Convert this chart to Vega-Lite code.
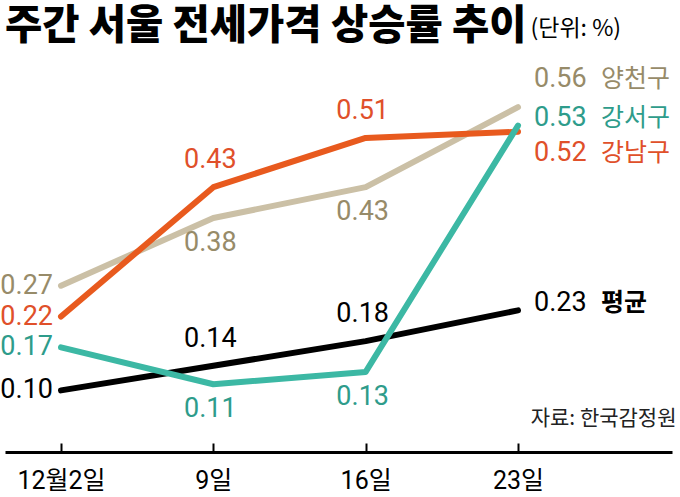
{
  "$schema": "https://vega.github.io/schema/vega-lite/v6.json",
  "autosize": "none",
  "width": 667,
  "height": 388,
  "padding": {"left": 5, "top": 64, "right": 8, "bottom": 45},
  "background": "white",
  "config": {"view": {"stroke": null}},
  "title": {
    "text": "주간 서울 전세가격 상승률 추이",
    "anchor": "start",
    "frame": "group",
    "font": "Noto Sans CJK KR",
    "fontSize": 40.5,
    "fontWeight": 900,
    "color": "#000000",
    "baseline": "alphabetic",
    "offset": -62
  },
  "data": {
    "values": [
      {"date": "2019-12-02", "series": "양천구", "value": 0.27},
      {"date": "2019-12-09", "series": "양천구", "value": 0.38},
      {"date": "2019-12-16", "series": "양천구", "value": 0.43},
      {"date": "2019-12-23", "series": "양천구", "value": 0.56},
      {"date": "2019-12-02", "series": "강남구", "value": 0.22},
      {"date": "2019-12-09", "series": "강남구", "value": 0.43},
      {"date": "2019-12-16", "series": "강남구", "value": 0.51},
      {"date": "2019-12-23", "series": "강남구", "value": 0.52},
      {"date": "2019-12-02", "series": "평균", "value": 0.10},
      {"date": "2019-12-09", "series": "평균", "value": 0.14},
      {"date": "2019-12-16", "series": "평균", "value": 0.18},
      {"date": "2019-12-23", "series": "평균", "value": 0.23},
      {"date": "2019-12-02", "series": "강서구", "value": 0.17},
      {"date": "2019-12-09", "series": "강서구", "value": 0.11},
      {"date": "2019-12-16", "series": "강서구", "value": 0.13},
      {"date": "2019-12-23", "series": "강서구", "value": 0.53}
    ]
  },
  "encoding": {
    "x": {
      "field": "date",
      "type": "temporal",
      "scale": {
        "type": "utc",
        "domain": [
          {"year": 2019, "month": 11, "date": 29, "hours": 10, "minutes": 13, "utc": true},
          {"year": 2019, "month": 12, "date": 30, "hours": 1, "minutes": 51, "utc": true}
        ]
      },
      "axis": {
        "orient": "top",
        "offset": -388,
        "values": [
          {"year": 2019, "month": 12, "date": 2, "utc": true},
          {"year": 2019, "month": 12, "date": 9, "utc": true},
          {"year": 2019, "month": 12, "date": 16, "utc": true},
          {"year": 2019, "month": 12, "date": 23, "utc": true}
        ],
        "labelExpr": "utcdate(datum.value) == 2 ? '12월2일' : utcdate(datum.value) + '일'",
        "grid": false,
        "domain": true,
        "domainColor": "#000000",
        "domainWidth": 3,
        "ticks": true,
        "tickColor": "#000000",
        "tickWidth": 2,
        "tickSize": 9,
        "labelFont": "Roboto, Noto Sans CJK KR",
        "labelFontSize": 25,
        "labelColor": "#000000",
        "labelPadding": -37,
        "labelBaseline": "middle",
        "title": "자료: 한국감정원",
        "titleX": 671,
        "titleY": -34,
        "titleAlign": "right",
        "titleAnchor": null,
        "titleBaseline": "middle",
        "titleFont": "Noto Sans CJK KR",
        "titleFontSize": 21,
        "titleFontWeight": "normal",
        "titleColor": "#222222"
      }
    },
    "y": {
      "field": "value",
      "type": "quantitative",
      "scale": {"domain": [0, 0.63], "nice": false, "zero": false},
      "axis": {
        "labels": false,
        "ticks": false,
        "domain": false,
        "grid": false,
        "title": "(단위: %)",
        "titleAngle": 0,
        "titleX": 525,
        "titleY": -36,
        "titleAlign": "left",
        "titleBaseline": "middle",
        "titleFont": "Noto Sans CJK KR",
        "titleFontSize": 23,
        "titleFontWeight": "normal",
        "titleColor": "#000000"
      }
    }
  },
  "layer": [
    {
      "mark": {"type": "line", "strokeWidth": 6, "strokeCap": "round", "strokeJoin": "round"},
      "encoding": {
        "stroke": {
          "field": "series",
          "type": "nominal",
          "scale": {
            "domain": ["양천구", "강남구", "평균", "강서구"],
            "range": ["#CBC0A6", "#E85A1E", "#000000", "#3CB8A4"]
          },
          "legend": null
        }
      }
    },
    {
      "transform": [{"filter": "utcdate(datum.date) == 2"}],
      "mark": {"type": "text", "align": "right", "baseline": "middle", "dx": -8, "font": "Roboto", "fontSize": 27},
      "encoding": {
        "text": {"field": "value", "type": "quantitative", "format": ".2f"},
        "fill": {
          "field": "series",
          "type": "nominal",
          "scale": {
            "domain": ["양천구", "강남구", "평균", "강서구"],
            "range": ["#978B69", "#E0502A", "#000000", "#2E9C8B"]
          },
          "legend": null
        }
      }
    },
    {
      "transform": [
        {"filter": "(utcdate(datum.date) == 9 || utcdate(datum.date) == 16) && (datum.series == '강남구' || datum.series == '평균')"}
      ],
      "mark": {"type": "text", "align": "center", "baseline": "middle", "dx": -3, "dy": -27, "font": "Roboto", "fontSize": 27},
      "encoding": {
        "text": {"field": "value", "type": "quantitative", "format": ".2f"},
        "fill": {"field": "series", "type": "nominal", "legend": null}
      }
    },
    {
      "transform": [
        {"filter": "(utcdate(datum.date) == 9 || utcdate(datum.date) == 16) && (datum.series == '양천구' || datum.series == '강서구')"}
      ],
      "mark": {"type": "text", "align": "center", "baseline": "middle", "dx": -3, "dy": 25, "font": "Roboto", "fontSize": 27},
      "encoding": {
        "text": {"field": "value", "type": "quantitative", "format": ".2f"},
        "fill": {"field": "series", "type": "nominal", "legend": null}
      }
    },
    {
      "transform": [{"filter": "utcdate(datum.date) == 23"}],
      "mark": {
        "type": "text", "align": "left", "baseline": "middle", "dx": 16,
        "dy": {"expr": "datum.series == '양천구' ? -28 : datum.series == '강서구' ? -8 : datum.series == '강남구' ? 21 : -7"},
        "font": "Roboto", "fontSize": 27
      },
      "encoding": {
        "text": {"field": "value", "type": "quantitative", "format": ".2f"},
        "fill": {"field": "series", "type": "nominal", "legend": null}
      }
    },
    {
      "transform": [{"filter": "utcdate(datum.date) == 23"}],
      "mark": {
        "type": "text", "align": "left", "baseline": "middle", "dx": 83,
        "dy": {"expr": "datum.series == '양천구' ? -28 : datum.series == '강서구' ? -8 : datum.series == '강남구' ? 21 : -7"},
        "fontWeight": {"expr": "datum.series == '평균' ? 'bold' : 'normal'"},
        "font": "Noto Sans CJK KR", "fontSize": 25
      },
      "encoding": {
        "text": {"field": "series", "type": "nominal"},
        "fill": {"field": "series", "type": "nominal", "legend": null}
      }
    }
  ],
  "resolve": {"scale": {"fill": "shared"}}
}
